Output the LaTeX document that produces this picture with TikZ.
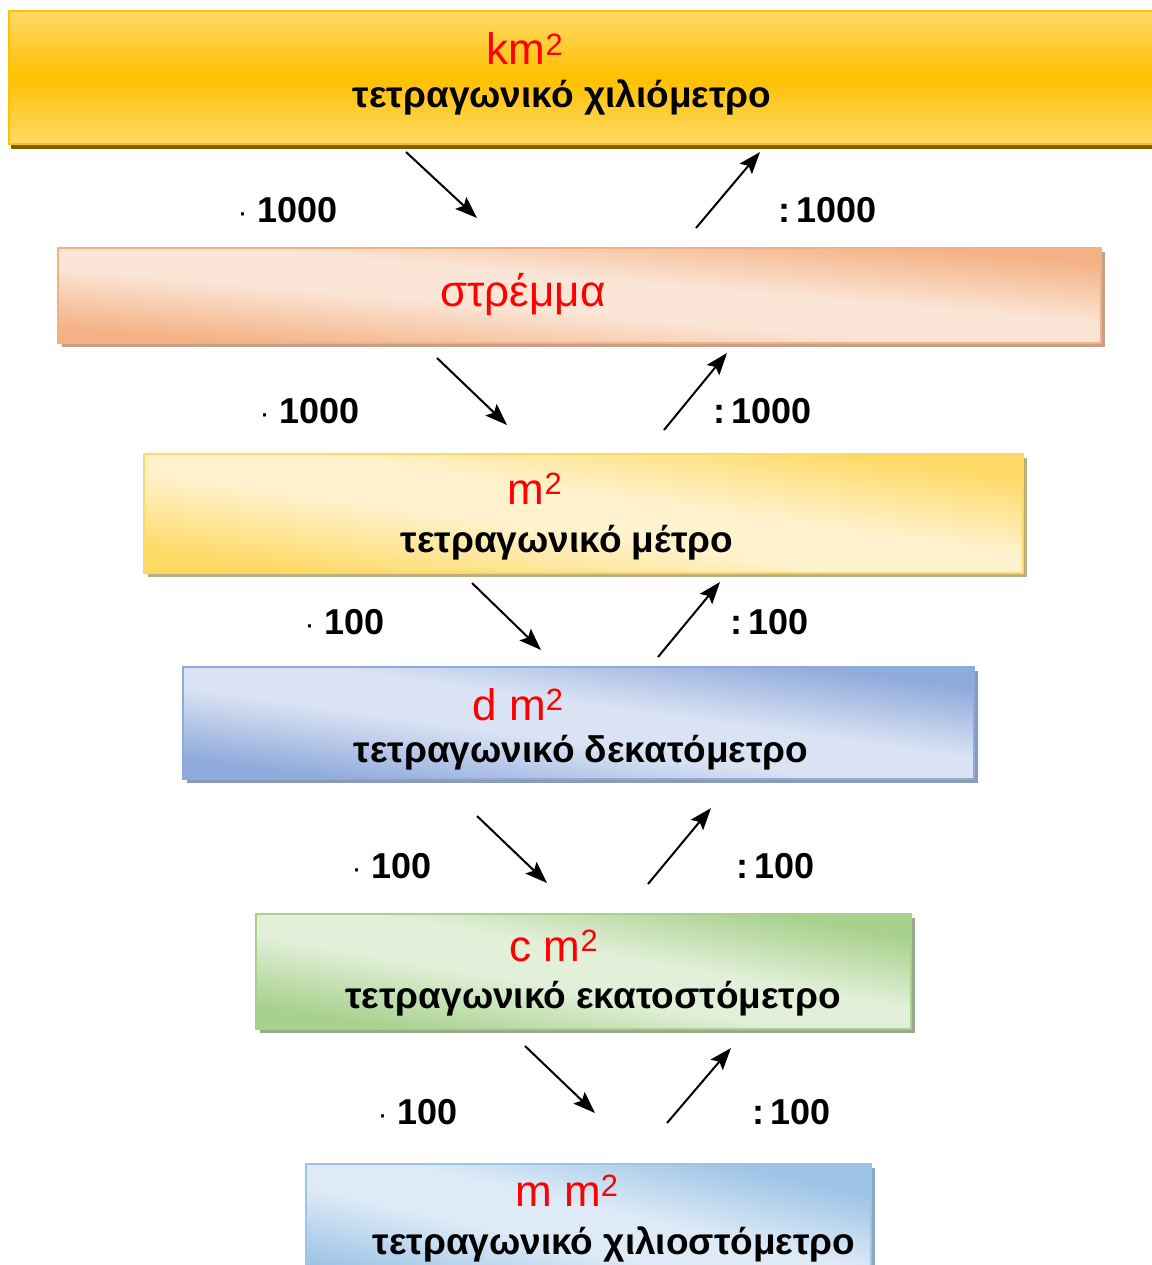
\documentclass[tikz,border=0pt]{standalone}
\usepackage{fontspec}
\setmainfont{Liberation Sans}
\usetikzlibrary{arrows.meta, shadows}
\definecolor{gold}{HTML}{FFC000}
\definecolor{goldlight}{HTML}{FFD966}
\definecolor{goldshadow}{HTML}{7F6000}
\definecolor{peach}{HTML}{F4B183}
\definecolor{peachlight}{HTML}{FBE5D6}
\definecolor{peachshadow}{HTML}{C4A08C}
\definecolor{sand}{HTML}{FFD966}
\definecolor{sandlight}{HTML}{FFF2CC}
\definecolor{sandshadow}{HTML}{BDAE80}
\definecolor{steel}{HTML}{8FAADC}
\definecolor{steellight}{HTML}{DAE3F3}
\definecolor{steelshadow}{HTML}{8C9AB2}
\definecolor{leaf}{HTML}{A9D18E}
\definecolor{leaflight}{HTML}{E2F0D9}
\definecolor{leafshadow}{HTML}{9AAA8E}
\definecolor{sky}{HTML}{9DC3E6}
\definecolor{skylight}{HTML}{DEEBF7}
\definecolor{skyshadow}{HTML}{8EA8C0}
\definecolor{unitred}{HTML}{FF0000}
\colorlet{boxdark}{peach}
\colorlet{boxlight}{peachlight}
% dark bottom and top, light band in the middle
\pgfdeclareverticalshading[boxdark,boxlight]{diagband}{100bp}{
    color(0bp)=(boxdark); color(27bp)=(boxdark); color(45bp)=(boxlight);
    color(55bp)=(boxlight); color(73bp)=(boxdark); color(100bp)=(boxdark)}
\tikzset{
    unitbox/.style={rectangle, anchor=north west, inner sep=0pt, line width=2pt},
    diagfill/.style n args={4}{draw=#1, /utils/exec={\colorlet{boxdark}{#1}\colorlet{boxlight}{#2}},
        shade, shading=diagband, shading angle=#4,
        drop shadow={shadow xshift=4pt, shadow yshift=-4pt, fill=#3, opacity=1}},
    unitlabel/.style={text=unitred, font=\fontsize{44}{48}\selectfont, anchor=base},
    unitname/.style={font=\bfseries\fontsize{37}{42}\selectfont, anchor=base},
    factor/.style={font=\bfseries\fontsize{36}{40}\selectfont, inner sep=0pt}
}
\newcommand{\timesdot}{{\mdseries\fontsize{30}{30}\selectfont ·}}

\begin{document}
\begin{tikzpicture}[
        x=1pt, y=-1pt, >={Stealth[length=22pt, width=16pt, inset=4pt]}
    ]
    \useasboundingbox (0,0) rectangle (1151,1265);

    % boxes
    \node[unitbox, draw=gold, top color=goldlight, bottom color=goldlight, middle color=gold,
          drop shadow={shadow xshift=2pt, shadow yshift=-5pt, fill=goldshadow, opacity=1},
          minimum width=1160pt, minimum height=133pt] (km) at (8,10) {};
    \node[unitbox, diagfill={peach}{peachlight}{peachshadow}{-5},
          minimum width=1043pt, minimum height=95pt] (str) at (57,247) {};
    \node[unitbox, diagfill={sand}{sandlight}{sandshadow}{-8},
          minimum width=879pt, minimum height=119pt] (m) at (143,453) {};
    \node[unitbox, diagfill={steel}{steellight}{steelshadow}{-8},
          minimum width=791pt, minimum height=112pt] (dm) at (182,666) {};
    \node[unitbox, diagfill={leaf}{leaflight}{leafshadow}{-10},
          minimum width=655pt, minimum height=115pt] (cm) at (255,913) {};
    \node[unitbox, diagfill={sky}{skylight}{skyshadow}{-13},
          minimum width=565pt, minimum height=130pt] (mm) at (305,1163) {};

    % texts
    \node[unitlabel] (kmu) at (525,65) {km\textsuperscript{2}};
    \node[unitname] (kmn) at (562,108) {τετραγωνικό χιλιόμετρο};
    \node[unitlabel] (stru) at (523,306) {στρέμμα};
    \node[unitlabel] (mu) at (535,504) {m\textsuperscript{2}};
    \node[unitname] (mn) at (567,552) {τετραγωνικό μέτρο};
    \node[unitlabel] (dmu) at (518,720) {d m\textsuperscript{2}};
    \node[unitname] (dmn) at (581,762) {τετραγωνικό δεκατόμετρο};
    \node[unitlabel] (cmu) at (554,961) {c m\textsuperscript{2}};
    \node[unitname] (cmn) at (593,1008) {τετραγωνικό εκατοστόμετρο};
    \node[unitlabel] (mmu) at (567,1206) {m m\textsuperscript{2}};
    \node[unitname] (mmn) at (614,1254) {τετραγωνικό χιλιοστόμετρο};

    % factors
    \node[factor, anchor=base east] (f1) at (338,223) {\timesdot\ 1000};
    \node[factor, anchor=base west] (g1) at (778,223) {:\,1000};
    \node[factor, anchor=base east] (f2) at (360,423) {\timesdot\ 1000};
    \node[factor, anchor=base west] (g2) at (713,423) {:\,1000};
    \node[factor, anchor=base east] (f3) at (385,634) {\timesdot\ 100};
    \node[factor, anchor=base west] (g3) at (730,634) {:\,100};
    \node[factor, anchor=base east] (f4) at (432,878) {\timesdot\ 100};
    \node[factor, anchor=base west] (g4) at (736,878) {:\,100};
    \node[factor, anchor=base east] (f5) at (458,1124) {\timesdot\ 100};
    \node[factor, anchor=base west] (g5) at (752,1124) {:\,100};

    % arrow ends
    \coordinate (d1) at (406,152);  \coordinate (d1e) at (477,218);
    \coordinate (u1) at (696,228);  \coordinate (u1e) at (760,152);
    \coordinate (d2) at (437,358);  \coordinate (d2e) at (507,425);
    \coordinate (u2) at (664,430);  \coordinate (u2e) at (727,353);
    \coordinate (d3) at (472,583);  \coordinate (d3e) at (541,650);
    \coordinate (u3) at (658,657);  \coordinate (u3e) at (720,582);
    \coordinate (d4) at (477,816);  \coordinate (d4e) at (547,883);
    \coordinate (u4) at (648,884);  \coordinate (u4e) at (711,808);
    \coordinate (d5) at (525,1046); \coordinate (d5e) at (595,1113);
    \coordinate (u5) at (667,1123); \coordinate (u5e) at (731,1048);

    \path[->, line width=2pt]
        (d1) edge (d1e)  (u1) edge (u1e)
        (d2) edge (d2e)  (u2) edge (u2e)
        (d3) edge (d3e)  (u3) edge (u3e)
        (d4) edge (d4e)  (u4) edge (u4e)
        (d5) edge (d5e)  (u5) edge (u5e);
\end{tikzpicture}
\end{document}
